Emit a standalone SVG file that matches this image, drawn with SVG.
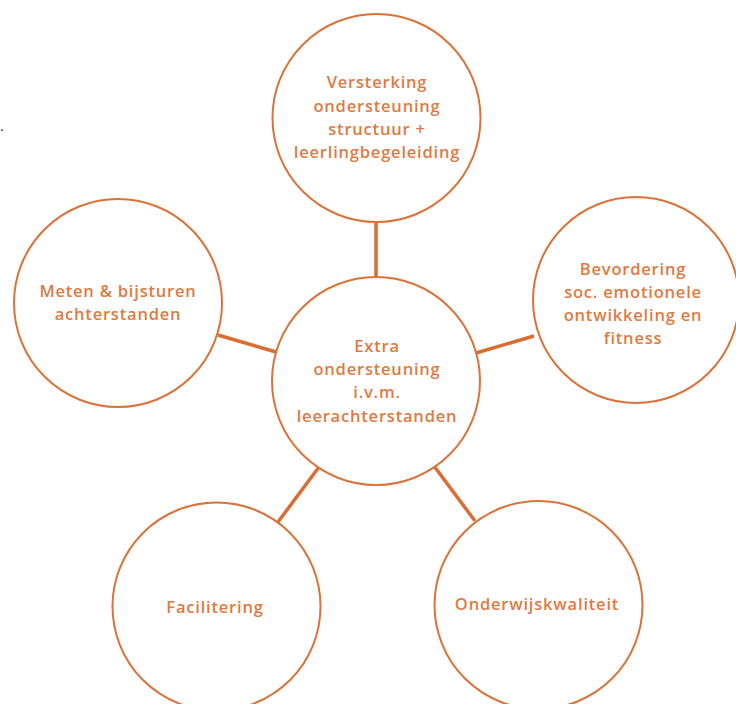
<svg xmlns="http://www.w3.org/2000/svg" width="736" height="704" viewBox="0 0 736 704">
<style>
.node circle{fill:#ffffff;stroke:#db7238;stroke-width:2}
.node text{font-family:"Open Sans","Liberation Sans",sans-serif;font-weight:600;font-size:16.5px;fill:#e07a42;text-anchor:middle;letter-spacing:0.8px}
.conn line{stroke:#d96e33;stroke-width:3.5}
</style>
<rect width="736" height="704" fill="#ffffff"/>
<text x="0" y="131" font-family="Liberation Sans,sans-serif" font-size="14" fill="#000000">.</text>
<g id="connectors" class="conn">
<line x1="376" y1="222" x2="376" y2="278"/>
<line x1="218" y1="335" x2="276" y2="352"/>
<line x1="476" y1="353" x2="534" y2="336"/>
<line x1="319" y1="467" x2="278" y2="522"/>
<line x1="434" y1="466" x2="475" y2="521"/>
</g>
<g id="node-top" class="node">
<circle cx="376.5" cy="118" r="104"/>
<text x="377" y="88">Versterking</text>
<text x="377" y="111.5">ondersteuning</text>
<text x="377" y="135">structuur +</text>
<text x="377" y="158">leerlingbegeleiding</text>
</g>
<g id="node-center" class="node">
<circle cx="376" cy="381" r="104"/>
<text x="377" y="352">Extra</text>
<text x="377" y="375">ondersteuning</text>
<text x="377" y="398">i.v.m.</text>
<text x="377" y="421.5">leerachterstanden</text>
</g>
<g id="node-left" class="node">
<circle cx="118" cy="303" r="104"/>
<text x="118" y="297">Meten &amp; bijsturen</text>
<text x="118" y="320">achterstanden</text>
</g>
<g id="node-right" class="node">
<circle cx="636" cy="300" r="103"/>
<text x="633" y="274.5">Bevordering</text>
<text x="633" y="297.5">soc. emotionele</text>
<text x="633" y="320.5">ontwikkeling en</text>
<text x="633" y="344">fitness</text>
</g>
<g id="node-bottom-left" class="node">
<circle cx="216.5" cy="606.5" r="104"/>
<text x="215" y="612.5">Facilitering</text>
</g>
<g id="node-bottom-right" class="node">
<circle cx="538.5" cy="605" r="104"/>
<text x="537" y="609.5">Onderwijskwaliteit</text>
</g>
</svg>
